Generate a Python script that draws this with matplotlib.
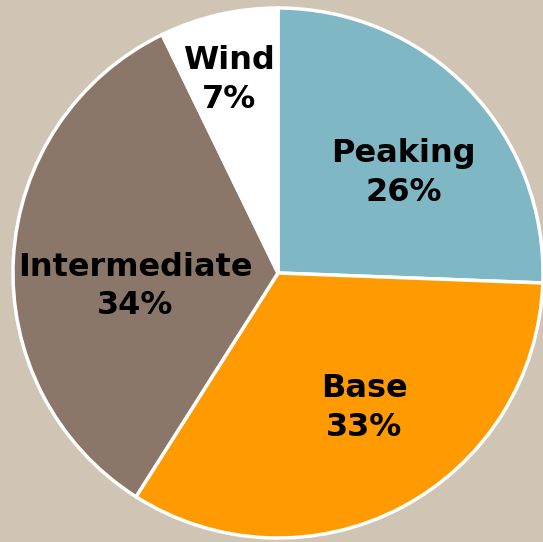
import matplotlib.pyplot as plt

labels = ['Peaking', 'Base', 'Intermediate', 'Wind']
shares = [25.6, 33.4, 33.8, 7.2]
pct_text = ['26%', '33%', '34%', '7%']
colors = ['#7FB8C4', '#FF9A00', '#8B7769', '#FFFFFF']
# label anchors, in units of the pie radius
label_xy = [(0.475, 0.379), (0.325, -0.51), (-0.54, -0.051), (-0.185, 0.73)]

W, H = 543, 542
cx, cy, R = 278, 273, 265

fig = plt.figure(figsize=(W / 100, H / 100), dpi=100)
fig.patch.set_facecolor('#D0C5B5')
ax = fig.add_axes([0, 0, 1, 1])
ax.set_facecolor('#D0C5B5')

wedges, _ = ax.pie(shares, colors=colors, startangle=90, counterclock=False,
                   radius=1.0, wedgeprops=dict(edgecolor='white', linewidth=2.5))

for lab, p, (x, y) in zip(labels, pct_text, label_xy):
    ax.text(x, y, f'{lab}\n{p}', ha='center', va='center',
            fontsize=23, fontweight='bold', family='DejaVu Sans', linespacing=1.33)

ax.set_xlim(-cx / R, (W - cx) / R)
ax.set_ylim(-(H - cy) / R, cy / R)
ax.set_aspect('auto')
ax.axis('off')

fig.savefig('out.png', dpi=100, facecolor=fig.get_facecolor())
